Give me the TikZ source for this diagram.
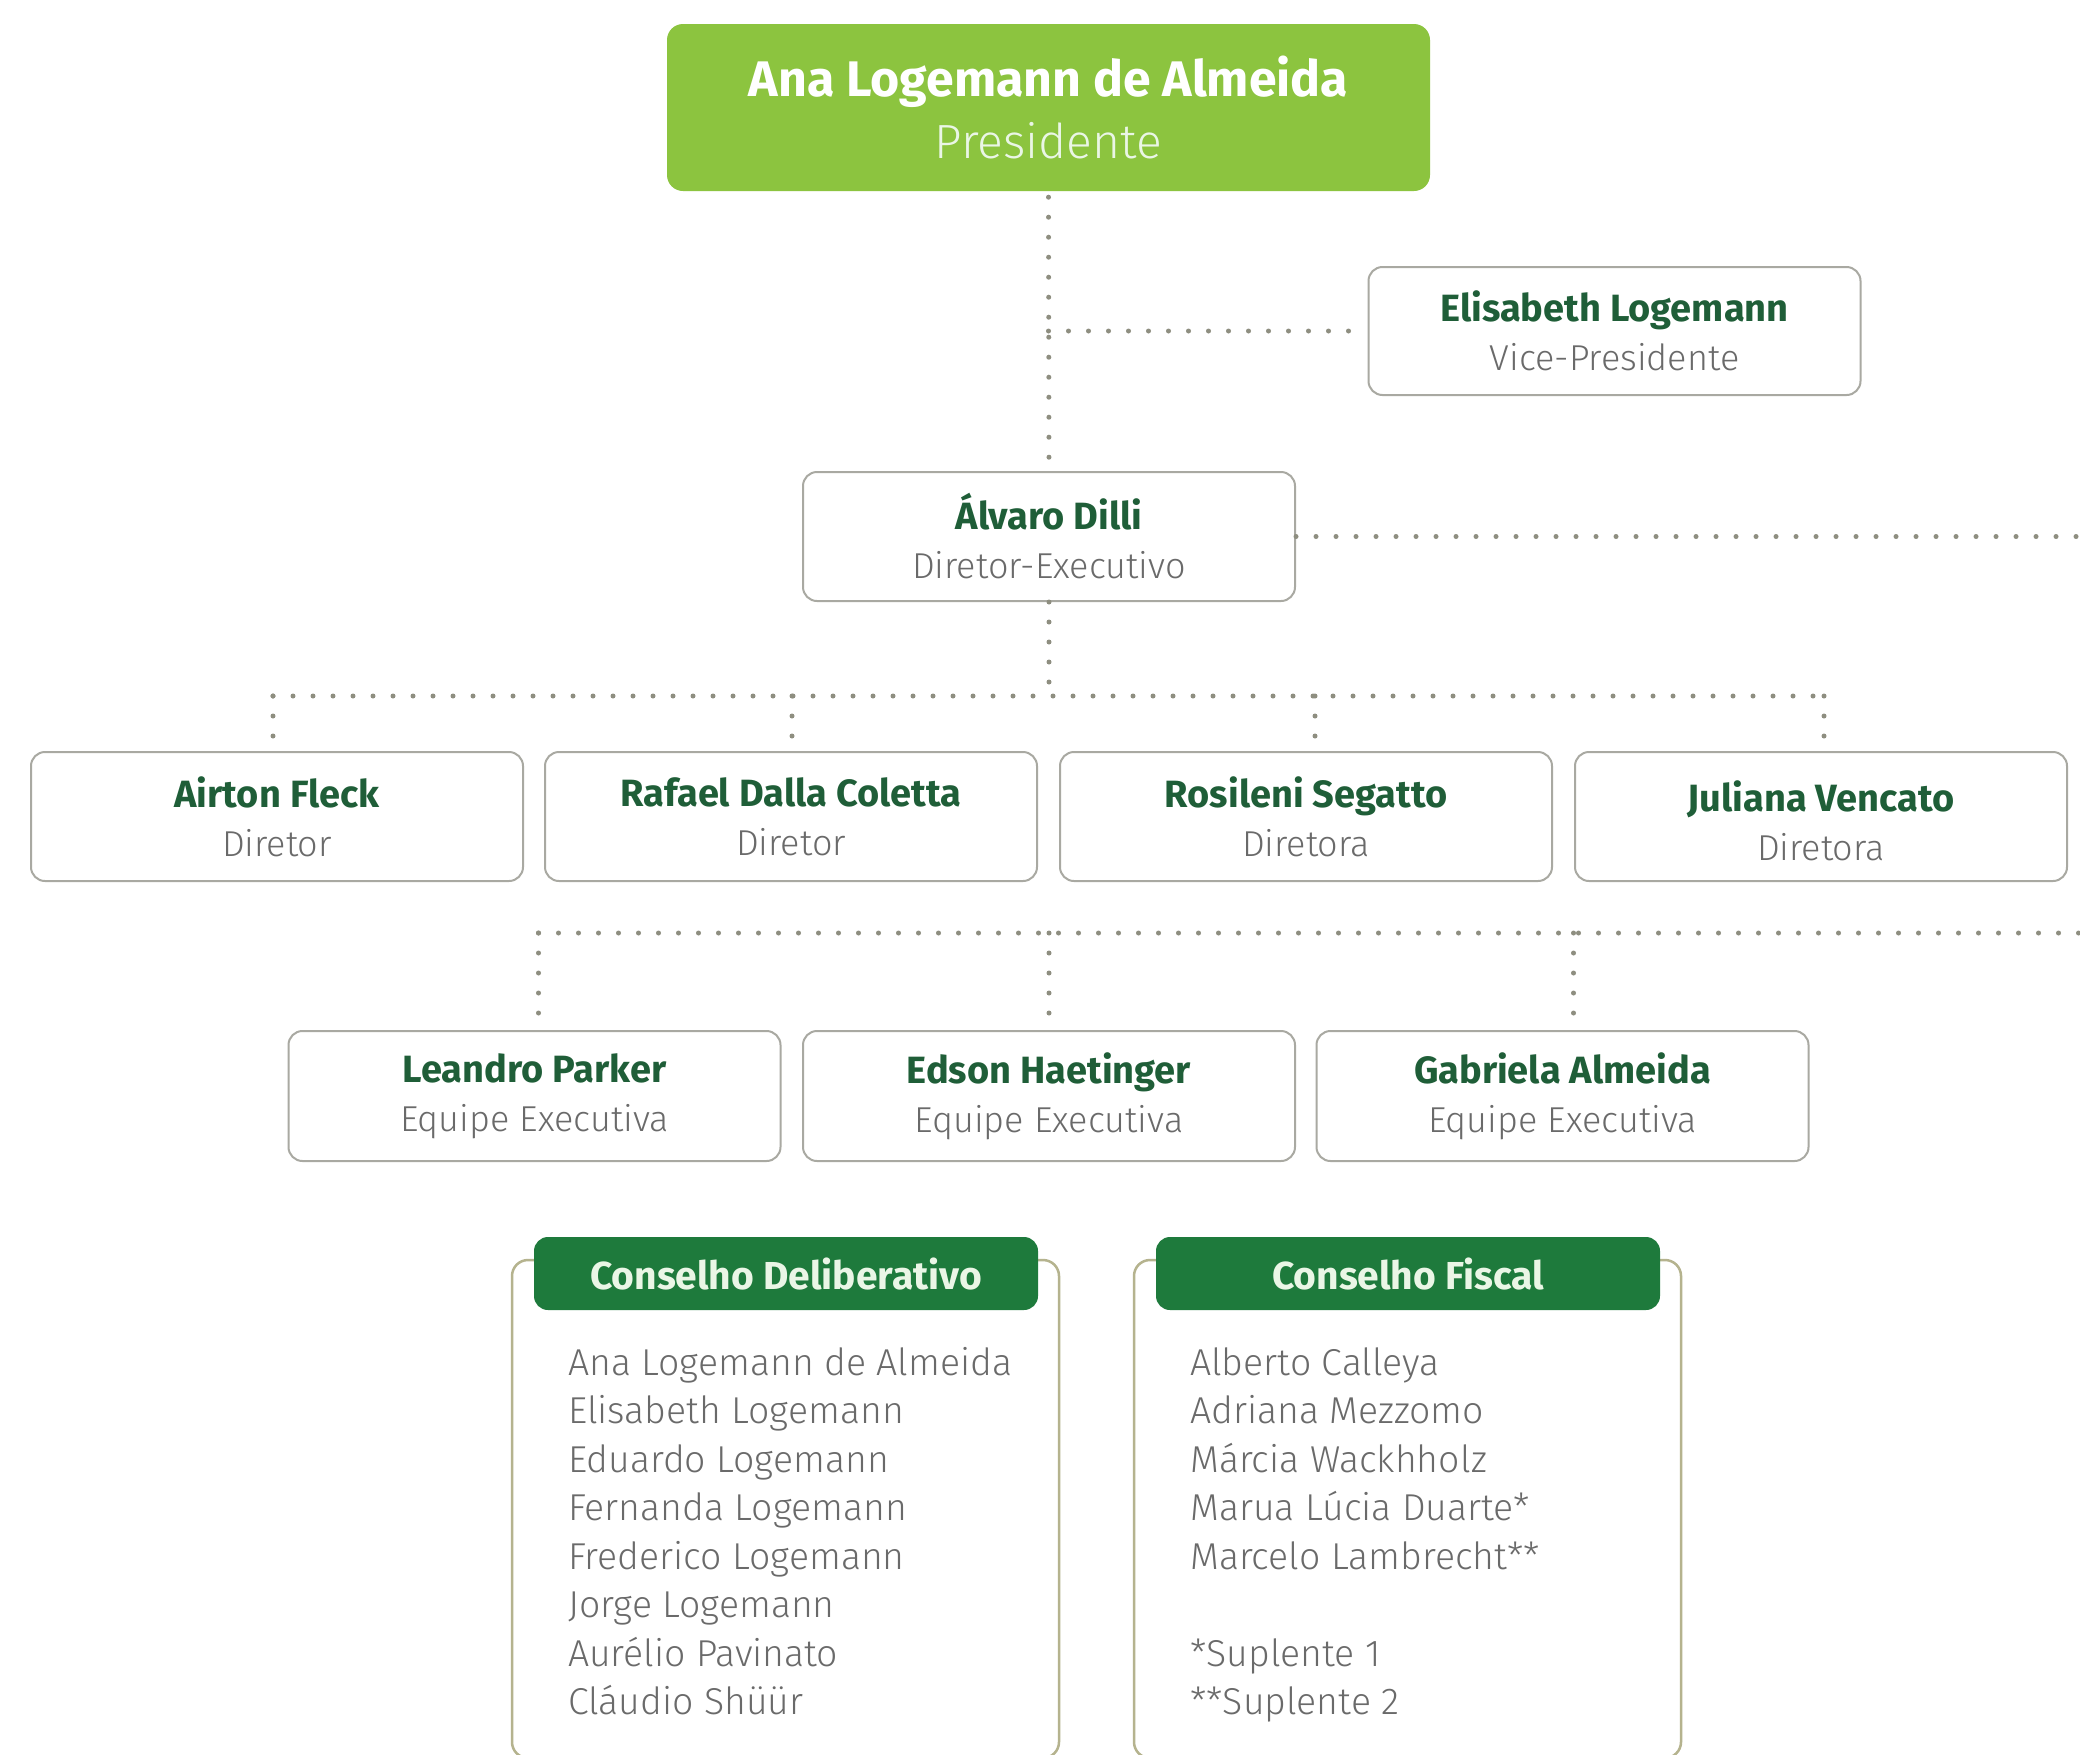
\documentclass[tikz,border=0pt]{standalone}
\usepackage{fontspec}
\setmainfont{Fira Sans}
\newfontfamily\lightf{Fira Sans Light}
\usetikzlibrary{calc}
\definecolor{presgreen}{HTML}{8CC43F}
\definecolor{headgreen}{HTML}{1E7A3C}
\definecolor{namegreen}{HTML}{1F5E38}
\definecolor{rolegray}{HTML}{6A6A6A}
\definecolor{boxgray}{HTML}{A9A9A2}
\definecolor{dotgray}{HTML}{8E8E80}
\definecolor{olive}{HTML}{B5B38E}
\definecolor{headtext}{HTML}{EAF6E6}
\newcommand\orgentry[2]{{\bfseries\color{namegreen}#1}\\{\lightf\fontsize{36}{49}\selectfont\color{rolegray}#2}}
\begin{document}
\begin{tikzpicture}[x=1pt,y=-1pt,
  person/.style={draw=boxgray, line width=2pt, rounded corners=14pt, fill=white,
    minimum width=492pt, minimum height=129pt, align=center, inner sep=0pt,
    font=\fontsize{38}{49}\selectfont},
  dots/.style={draw=dotgray, line width=5pt, line cap=round, dash pattern=on 0pt off 20pt},
  council/.style={draw=olive, line width=2.5pt, rounded corners=16pt,
    minimum width=547pt, minimum height=498pt, inner sep=0pt},
  councilhead/.style={fill=headgreen, rounded corners=14pt, minimum width=504pt,
    minimum height=73pt, inner sep=0pt, text=headtext,
    font=\fontsize{39}{46}\selectfont\bfseries},
  listitem/.style={anchor=base west, inner sep=0pt, text=rolegray,
    font=\lightf\fontsize{37.4}{48}\selectfont}]
\fill[white] (0,0) rectangle (2080,1754);
\useasboundingbox (0,0) rectangle (2080,1754);

% Presidente
\node[fill=presgreen, rounded corners=16pt, minimum width=763pt, minimum height=167pt,
  align=center, inner sep=0pt, font=\fontsize{50}{62}\selectfont] (pres) at (1048.5,107.5)
  {{\bfseries\color{white}Ana Logemann de Almeida}\\{\lightf\fontsize{48}{62}\selectfont\color{headtext}Presidente}};

\node[person, minimum height=128pt] (eli) at (1614.5,331) {\orgentry{Elisabeth Logemann}{Vice-Presidente}};
\node[person] (alv) at (1049,536.5) {\orgentry{Álvaro Dilli}{Diretor-Executivo}};

\node[person] (airton) at (277,816.5) {\orgentry{Airton Fleck}{Diretor}};
\node[person] (rafael) at (791,816.5) {\orgentry{Rafael Dalla Coletta}{Diretor}};
\node[person] (rosileni) at (1306,816.5) {\orgentry{Rosileni Segatto}{Diretora}};
\node[person] (juliana) at (1821,816.5) {\raisebox{-10pt}[0pt][0pt]{\parbox{400pt}{\centering\orgentry{Juliana Vencato}{Diretora}}}};

\node[person, minimum height=130pt] (leandro) at (534.5,1096) {\orgentry{Leandro Parker}{Equipe Executiva}};
\node[person, minimum height=130pt] (edson) at (1049,1096) {\orgentry{Edson Haetinger}{Equipe Executiva}};
\node[person, minimum height=130pt] (gabriela) at (1562.5,1096) {\orgentry{Gabriela Almeida}{Equipe Executiva}};

% connectors
\draw[dots] ([yshift=-6pt]pres.south) -- (alv.north);
\coordinate (eliJ) at (pres.south |- eli.west);
\draw[dots] (eliJ) -- (eli.west);
\coordinate (rightA) at (2080,536.5);
\draw[dots] (alv.east) -- (rightA);
\coordinate (busA) at (1049,696);
\draw[dots] (alv.south) -- (busA);
\draw[dots] ([xshift=-4pt]airton.north |- busA) -- ([xshift=3pt]juliana.north |- busA);
\draw[dots] ([xshift=-4pt]airton.north |- busA) -- ([xshift=-4pt]airton.north);
\draw[dots] ([xshift=1pt]rafael.north |- busA) -- ([xshift=1pt]rafael.north);
\draw[dots] ([xshift=9pt]rosileni.north |- busA) -- ([xshift=9pt]rosileni.north);
\draw[dots] ([xshift=3pt]juliana.north |- busA) -- ([xshift=3pt]juliana.north);

\coordinate (rightB) at (2080,933);
\draw[dots] ([xshift=4pt]leandro.north |- rightB) -- (rightB);
\draw[dots] ([xshift=4pt]leandro.north |- rightB) -- ([xshift=4pt]leandro.north);
\draw[dots] (edson.north |- rightB) -- (edson.north);
\draw[dots] ([xshift=11pt]gabriela.north |- rightB) -- ([xshift=11pt]gabriela.north);

% Conselhos
\node[council] (delib) at (785.5,1509) {};
\node[councilhead] (delibhead) at (786,1273.5) {Conselho Deliberativo};
\node[council] (fiscal) at (1407.5,1509) {};
\node[councilhead] (fiscalhead) at (1408,1273.5) {Conselho Fiscal};

\foreach \t [count=\i from 0] in {Ana Logemann de Almeida, Elisabeth Logemann, Eduardo Logemann,
  Fernanda Logemann, Frederico Logemann, Jorge Logemann, Aurélio Pavinato, Cláudio Shüür}
  \node[listitem] (dl\i) at (568,1375+48.5*\i) {\t};

\foreach \t [count=\i from 0] in {Alberto Calleya, Adriana Mezzomo, Márcia Wackhholz,
  Marua Lúcia Duarte*, Marcelo Lambrecht**}
  \node[listitem] (fl\i) at (1190,1375+48.5*\i) {\t};
\node[listitem] (sup1) at (1190,1375+48.5*6) {*Suplente 1};
\node[listitem] (sup2) at (1190,1375+48.5*7) {**Suplente 2};
\end{tikzpicture}
\end{document}
